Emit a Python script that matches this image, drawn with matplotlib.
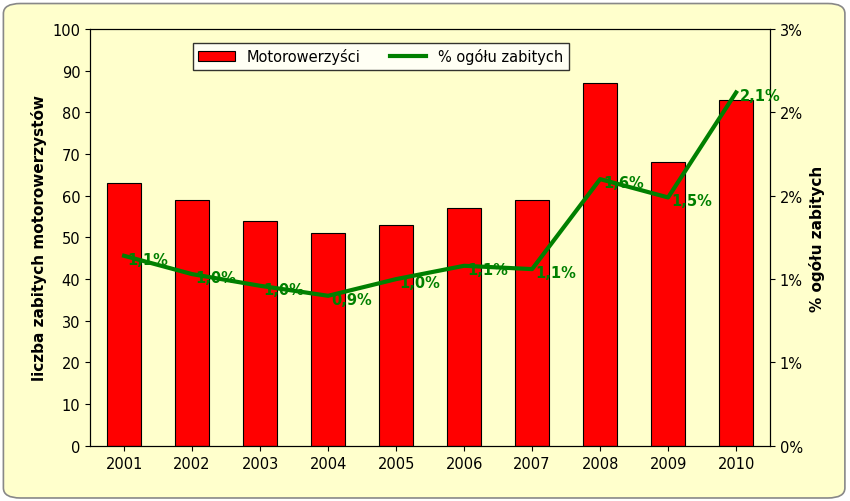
import matplotlib.pyplot as plt
from matplotlib.patches import FancyBboxPatch

years = ['2001', '2002', '2003', '2004', '2005', '2006', '2007', '2008', '2009', '2010']
killed = [63, 59, 54, 51, 53, 57, 59, 87, 68, 83]
share = [1.14, 1.03, 0.96, 0.90, 1.0, 1.08, 1.06, 1.6, 1.49, 2.12]
share_labels = ['1,1%', '1,0%', '1,0%', '0,9%', '1,0%', '1,1%', '1,1%', '1,6%', '1,5%', '2,1%']
right_ticks = [0, 0.5, 1.0, 1.5, 2.0, 2.5]
right_labels = ['0%', '1%', '1%', '2%', '2%', '3%']

bg = '#FFFFCC'
fig = plt.figure(figsize=(8.5, 5.02), dpi=100)
fig.patch.set_facecolor('white')
fig.patches.append(FancyBboxPatch((0.004, 0.006), 0.99, 0.985, boxstyle='round,pad=0,rounding_size=0.02',
                                  transform=fig.transFigure, facecolor=bg, edgecolor='#888888', lw=1.2,
                                  zorder=-10))
ax = fig.add_axes([0.106, 0.11, 0.8, 0.83])
ax.set_facecolor(bg)
x = range(len(years))
ax.bar(x, killed, width=0.5, color='#FF0000', edgecolor='black', linewidth=0.8, label='Motorowerzyści')
ax.set_ylim(0, 100)
ax.set_yticks(range(0, 101, 10))
ax.set_xlim(-0.5, len(years) - 0.5)
ax.set_xticks(list(x))
ax.set_xticklabels(years)
ax.set_ylabel('liczba zabitych motorowerzystów', fontweight='bold', fontsize=11)
ax.tick_params(labelsize=10.5)

ax2 = ax.twinx()
ax2.plot(x, share, color='#008000', lw=3, label='% ogółu zabitych')
for i, (v, t) in enumerate(zip(share, share_labels)):
    ax2.text(i + 0.05, v - 0.02, t, color='#008000', fontweight='bold', fontsize=10.5, va='center')
ax2.set_ylim(0, 2.5)
ax2.set_yticks(right_ticks)
ax2.set_yticklabels(right_labels)
ax2.set_ylabel('% ogółu zabitych', fontweight='bold', fontsize=11)
ax2.tick_params(labelsize=10.5)

h1, l1 = ax.get_legend_handles_labels()
h2, l2 = ax2.get_legend_handles_labels()
leg = ax2.legend(h1 + h2, l1 + l2, loc='upper left', bbox_to_anchor=(0.14, 0.985), ncol=2,
                 frameon=True, fancybox=False, edgecolor='black', fontsize=10.5, handlelength=2.5)
leg.get_frame().set_facecolor('white')

fig.savefig('out.png', dpi=100, facecolor=fig.get_facecolor())
